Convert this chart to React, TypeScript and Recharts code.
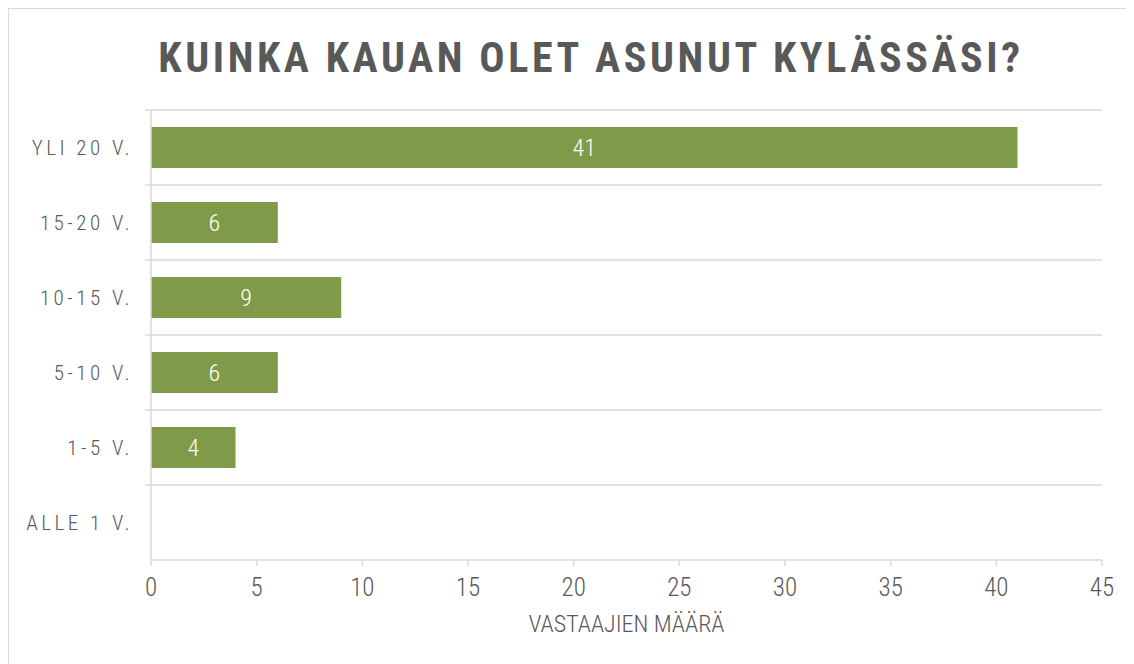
import { BarChart, Bar, XAxis, YAxis, CartesianGrid, LabelList, Label } from "recharts";

const categories = ["YLI 20 V.", "15-20 V.", "10-15 V.", "5-10 V.", "1-5 V.", "ALLE 1 V."];
const counts = [41, 6, 9, 6, 4, 0];
const xTicks = [0, 5, 10, 15, 20, 25, 30, 35, 40, 45];

const data = categories.map((name, i) => ({ name, value: counts[i] }));

const FONT = '"Roboto Condensed", "Liberation Sans Narrow", "DejaVu Sans Condensed", "Liberation Sans", sans-serif';
const GREY = "#595959";
const LINE = "#d9d9d9";

function CategoryTick({ x, y, payload }: any) {
  return (
    <text
      x={x - 4}
      y={y}
      textAnchor="end"
      dominantBaseline="central"
      fill={GREY}
      fontSize={21}
      fontWeight={300}
      letterSpacing={3.5}
      fontFamily={FONT}
    >
      {payload.value}
    </text>
  );
}

export default function App() {
  return (
    <div style={{ width: 1126, height: 656, overflow: "hidden", fontFamily: FONT }}>
      <div
        style={{
          position: "relative",
          width: 1150,
          height: 700,
          border: `1px solid ${LINE}`,
          boxSizing: "border-box",
          background: "#fff",
        }}
      >
        <div
          style={{
            position: "absolute",
            top: 24,
            left: 0,
            width: 1164,
            textAlign: "center",
            fontSize: 42,
            fontWeight: "bold",
            letterSpacing: 3.6,
            color: GREY,
            whiteSpace: "nowrap",
          }}
        >
          KUINKA KAUAN OLET ASUNUT KYLÄSSÄSI?
        </div>
        <div style={{ position: "absolute", left: 0, top: 0 }}>
          <BarChart
            width={1116}
            height={660}
            data={data}
            layout="vertical"
            margin={{ top: 101, right: 23, bottom: 37, left: 0 }}
          >
            <CartesianGrid
              vertical={false}
              stroke={LINE}
              strokeWidth={1.5}
              x={136}
              width={957}
              horizontalCoordinatesGenerator={({ offset }: any) =>
                categories.map((_, i) => offset.top + (i * offset.height) / categories.length)
              }
            />
            <XAxis
              type="number"
              domain={[0, 45]}
              ticks={xTicks}
              interval={0}
              height={72}
              axisLine={{ stroke: LINE, strokeWidth: 1.5 }}
              tickLine={{ stroke: LINE, strokeWidth: 1.5 }}
              tickSize={6}
              tickMargin={12}
              tick={{ fill: GREY, fontSize: 25, fontWeight: 300, fontFamily: FONT }}
            >
              <Label
                value="VASTAAJIEN MÄÄRÄ"
                position="insideBottom"
                offset={0}
                fill={GREY}
                fontSize={24}
                fontWeight={300}
                fontFamily={FONT}
              />
            </XAxis>
            <YAxis
              type="category"
              dataKey="name"
              width={142}
              axisLine={{ stroke: LINE, strokeWidth: 1.5 }}
              tickLine={false}
              tick={<CategoryTick />}
              tickMargin={8}
            />
            <Bar dataKey="value" fill="#7f9a48" barSize={41} isAnimationActive={false}>
              <LabelList
                dataKey="value"
                position="center"
                fill="#ffffff"
                fontSize={24}
                fontWeight={300}
                fontFamily={FONT}
                formatter={(v: any) => (v ? v : "")}
              />
            </Bar>
          </BarChart>
        </div>
      </div>
    </div>
  );
}
